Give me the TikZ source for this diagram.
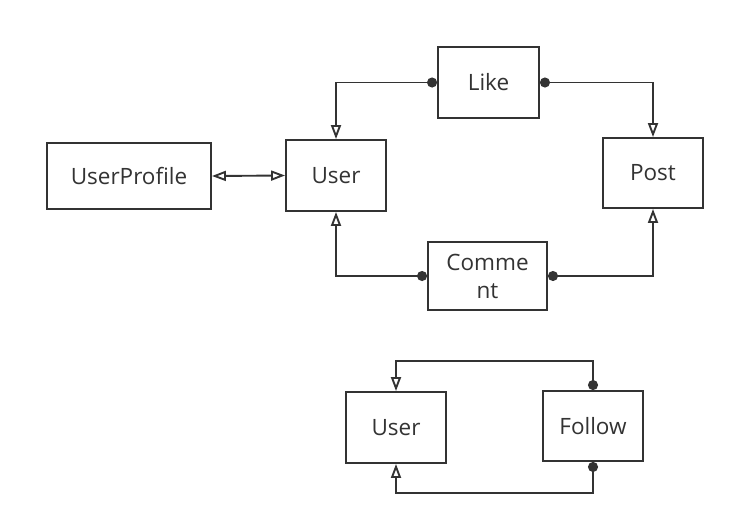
\documentclass[tikz,border=0pt]{standalone}
\usepackage{fontspec}
\setmainfont{Open Sans}
\usetikzlibrary{arrows.meta}
\definecolor{ink}{HTML}{333333}
\tikzset{
  ent/.style={draw=ink, line width=1.9pt, fill=white, text=ink, inner sep=0pt, font=\fontsize{22.5}{28}\selectfont, align=center},
  conn/.style={draw=ink, line width=1.9pt},
  dotopen/.style={conn, {Circle[length=10pt]}-{Triangle[open, length=14pt, width=10pt]}},
  bothopen/.style={conn, {Triangle[open, length=14pt, width=10pt]}-{Triangle[open, length=14pt, width=10pt]}},
}
\begin{document}
\begin{tikzpicture}[x=1pt,y=-1pt]
\useasboundingbox (0,0) rectangle (735,525);
\node[ent, minimum width=101pt, minimum height=71pt] (like) at (488.5,82.5) {Like};
\node[ent, minimum width=100pt, minimum height=71pt] (user) at (336,175.5) {User};
\node[ent, minimum width=100pt, minimum height=70pt] (post) at (653,173) {Post};
\node[ent, minimum width=119pt, minimum height=68pt] (comment) at (487.5,276) {Comme\\nt};
\node[ent, minimum width=164pt, minimum height=66pt] (profile) at (129,176) {UserProfile};
\node[ent, minimum width=100pt, minimum height=71pt] (user2) at (396,427.5) {User};
\node[ent, minimum width=100pt, minimum height=70pt] (follow) at (593,426) {Follow};
\coordinate (ft) at (593,361);
\coordinate (fb) at (593,493);
\draw[dotopen] (like.west) -| (user.north);
\draw[dotopen] (like.east) -| (post.north);
\draw[dotopen] (comment.west) -| (user.south);
\draw[dotopen] (comment.east) -| (post.south);
\draw[bothopen] (profile.east) -- (user.west);
\draw[dotopen] (follow.north) -- (ft) -| (user2.north);
\draw[dotopen] (follow.south) -- (fb) -| (user2.south);
\end{tikzpicture}
\end{document}
